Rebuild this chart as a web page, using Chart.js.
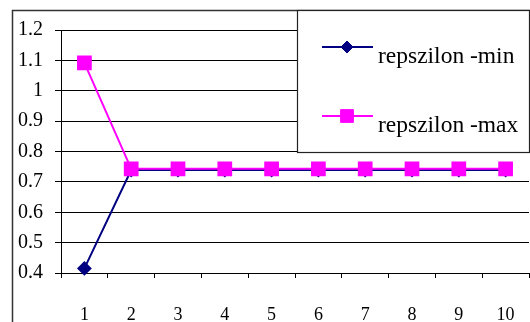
<!DOCTYPE html>
<html>
<head>
<meta charset="utf-8">
<script src="https://cdn.jsdelivr.net/npm/chart.js@4/dist/chart.umd.min.js"></script>
<style>
  html, body { margin: 0; padding: 0; background: #fff; }
  canvas { display: block; }
</style>
</head>
<body>
<canvas id="c" width="530" height="322"></canvas>
<script>
// Category labels along the x axis
const categories = ['1', '2', '3', '4', '5', '6', '7', '8', '9', '10'];
// Series values
const repszilonMin = [0.415, 0.739, 0.739, 0.739, 0.739, 0.739, 0.739, 0.739, 0.739, 0.739];
const repszilonMax = [1.092, 0.743, 0.743, 0.743, 0.743, 0.743, 0.743, 0.743, 0.743, 0.743];
// Value axis range
const yMin = 0.4, yMax = 1.2, yStep = 0.1;

const serif = '"Liberation Serif", serif';

// Frame around the whole chart
const framePlugin = {
  id: 'frame',
  beforeDraw(chart) {
    const ctx = chart.ctx;
    ctx.save();
    ctx.fillStyle = '#fff';
    ctx.fillRect(0, 0, chart.width, chart.height);
    ctx.strokeStyle = '#333';
    ctx.lineWidth = 1.5;
    ctx.beginPath();
    ctx.moveTo(12.5, chart.height + 2);
    ctx.lineTo(12.5, 10.5);
    ctx.lineTo(chart.width + 2, 10.5);
    ctx.stroke();
    ctx.restore();
  }
};

// Boxed legend in the upper right corner, drawn over the plot
const boxLegend = {
  id: 'boxLegend',
  afterDraw(chart) {
    const ctx = chart.ctx;
    const box = { x: 297.5, y: 10.5, w: 232, h: 142 };
    ctx.save();
    ctx.fillStyle = '#fff';
    ctx.fillRect(box.x, box.y, box.w, box.h);
    ctx.strokeStyle = '#222';
    ctx.lineWidth = 1.2;
    ctx.strokeRect(box.x, box.y, box.w, box.h);
    const entries = [
      { ds: chart.data.datasets[0], lineY: 47, textY: 63 },
      { ds: chart.data.datasets[1], lineY: 116, textY: 132 }
    ];
    ctx.font = '23.5px ' + serif;
    ctx.textBaseline = 'alphabetic';
    ctx.textAlign = 'left';
    for (const e of entries) {
      ctx.strokeStyle = e.ds.borderColor;
      ctx.lineWidth = 2;
      ctx.beginPath();
      ctx.moveTo(322, e.lineY);
      ctx.lineTo(373, e.lineY);
      ctx.stroke();
      ctx.fillStyle = e.ds.pointBackgroundColor;
      ctx.strokeStyle = e.ds.pointBorderColor;
      ctx.lineWidth = 1;
      ctx.beginPath();
      const r = e.ds.pointRadius;
      if (e.ds.pointStyle === 'rectRot') {
        ctx.moveTo(347, e.lineY - r);
        ctx.lineTo(347 + r, e.lineY);
        ctx.lineTo(347, e.lineY + r);
        ctx.lineTo(347 - r, e.lineY);
        ctx.closePath();
      } else {
        const s = Math.SQRT1_2 * r;
        ctx.rect(347 - s, e.lineY - s, 2 * s, 2 * s);
      }
      ctx.fill();
      ctx.stroke();
      ctx.fillStyle = '#000';
      ctx.fillText(e.ds.label, 378, e.textY);
    }
    ctx.restore();
  }
};

new Chart(document.getElementById('c'), {
  type: 'line',
  data: {
    labels: categories,
    datasets: [
      {
        label: 'repszilon -min',
        data: repszilonMin,
        borderColor: '#000080',
        backgroundColor: '#000080',
        pointBackgroundColor: '#000080',
        pointBorderColor: '#000080',
        pointStyle: 'rectRot',
        pointRadius: 6,
        borderWidth: 2,
        tension: 0,
        clip: false,
        order: 1
      },
      {
        label: 'repszilon -max',
        data: repszilonMax,
        borderColor: '#FF00FF',
        backgroundColor: '#FF00FF',
        pointBackgroundColor: '#FF00FF',
        pointBorderColor: '#FF00FF',
        pointStyle: 'rect',
        pointRadius: 9,
        borderWidth: 2,
        tension: 0,
        clip: false,
        order: 0
      }
    ]
  },
  options: {
    responsive: false,
    devicePixelRatio: 1,
    animation: false,
    layout: { autoPadding: false, padding: { left: 0, top: 30, right: 1, bottom: 0 } },
    plugins: {
      legend: { display: false },
      tooltip: { enabled: false }
    },
    scales: {
      x: {
        type: 'category',
        offset: true,
        afterFit(scale) { scale.height = 49; },
        grid: {
          offset: true,
          drawOnChartArea: false,
          drawTicks: true,
          tickLength: 5,
          color: '#000',
          lineWidth: 1
        },
        border: { display: true, color: '#000', width: 1 },
        ticks: {
          color: '#000',
          padding: 0,
          maxRotation: 0,
          autoSkip: false,
          // tall line box lowers the labels below the tick marks
          font: { family: serif, size: 18, lineHeight: '74px' }
        }
      },
      y: {
        min: yMin,
        max: yMax,
        afterFit(scale) { scale.width = 61; },
        grid: {
          color: '#000',
          lineWidth: 1,
          drawTicks: true,
          tickLength: 6
        },
        border: { display: true, color: '#000', width: 1 },
        ticks: {
          stepSize: yStep,
          color: '#000',
          padding: 12,
          font: { family: serif, size: 20 },
          callback: (v) => String(Math.round(v * 10) / 10)
        }
      }
    }
  },
  plugins: [framePlugin, boxLegend]
});
</script>
</body>
</html>
